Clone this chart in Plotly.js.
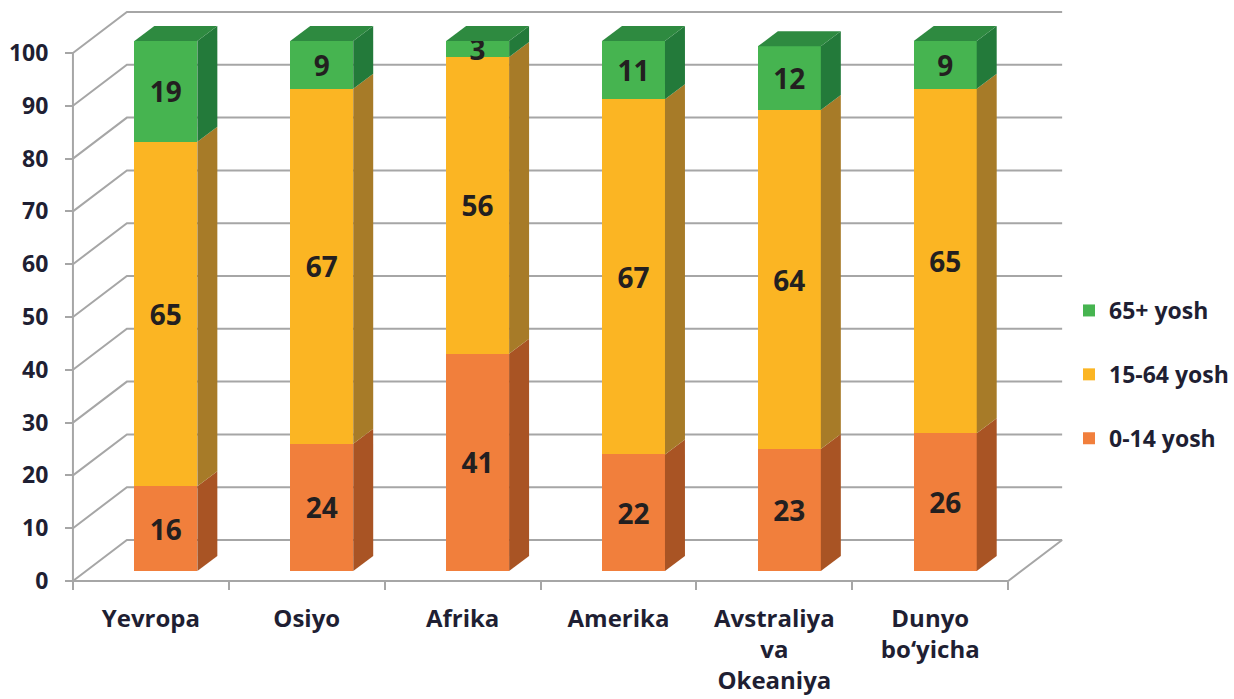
<!DOCTYPE html>
<html>
<head>
<meta charset="utf-8">
<script src="https://cdn.plot.ly/plotly-3.0.1.min.js"></script>
<style>html,body{margin:0;padding:0;background:#fff;}#chart{width:1234px;height:699px;}</style>
</head>
<body>
<div id="chart"></div>
<script>
// ---- data ----
const categories = ['Yevropa', 'Osiyo', 'Afrika', 'Amerika', 'Avstraliya<br>va<br>Okeaniya', 'Dunyo<br>bo‘yicha'];
const seriesNames = ['0-14 yosh', '15-64 yosh', '65+ yosh'];
const age0to14 = [16, 24, 41, 22, 23, 26];
const age15to64 = [65, 67, 56, 67, 64, 65];
const age65plus = [19, 9, 3, 11, 12, 9];
const yTickVals = [0, 10, 20, 30, 40, 50, 60, 70, 80, 90, 100];

// ---- styling / geometry ----
const W = 1234, H = 699;
const CAT_PX = 156;            // pixels per category
const FRONT_X0 = 73;           // px of category boundary -0.5 on the front plane
const FRONT_Y0 = 581;          // px of value 0 on front plane
const FRONT_PXU = 5.28;        // px per value unit
const BAR_OFF_X = 15, BAR_OFF_Y = 10; // bar plane offset from front plane (px)
const BAR_PXU = 5.3;
const BACK_DX = 54, BACK_DY = 41;     // back wall offset (px)
const DEPTH_DX = 20, DEPTH_DY = 15;   // bar depth (px)
const BAR_W = 0.404;
const GRID = '#a6a6a6';
const TXT = '#1f1f33';
const FONT = '"Open Sans", "Noto Sans", sans-serif';

const frontColors = ['#f17f3c', '#fbb523', '#46b450'];
const sideColors = ['#a95424', '#a77b28', '#237a3a'];
const topColor = '#2e8a40';
const seriesValues = [age0to14, age15to64, age65plus];

const nCat = categories.length;
// ranges computed from pixel geometry
const xFront = [(0 - FRONT_X0) / CAT_PX - 0.5, (W - FRONT_X0) / CAT_PX - 0.5];
const yFront = [(FRONT_Y0 - H) / FRONT_PXU, FRONT_Y0 / FRONT_PXU];
const barX0 = FRONT_X0 + BAR_OFF_X, barY0 = FRONT_Y0 - BAR_OFF_Y;
const xBar = [(0 - barX0) / CAT_PX - 0.5, (W - barX0) / CAT_PX - 0.5];
const yBar = [(barY0 - H) / BAR_PXU, barY0 / BAR_PXU];

const traces = seriesNames.map((name, s) => ({
  type: 'bar',
  name: name,
  x: categories,
  y: seriesValues[s],
  xaxis: 'x2',
  yaxis: 'y2',
  width: BAR_W,
  marker: {color: frontColors[s], line: {width: 0}},
  texttemplate: '%{y}',
  textposition: 'inside',
  insidetextanchor: 'middle',
  constraintext: 'none',
  textangle: 0,
  textfont: {family: FONT, size: 28, color: '#231f20', weight: 'bold'},
  legendgroup: 'g' + s,
  legendrank: seriesNames.length - s,
  hoverinfo: 'x+y+name'
}));

const shapes = [];
// back wall grid and connectors (front plane coords)
const bdx = BACK_DX / CAT_PX, bdy = BACK_DY / FRONT_PXU;
const xL = -0.5, xR = nCat - 0.5;
yTickVals.forEach(v => {
  shapes.push({type: 'path', xref: 'x', yref: 'y', layer: 'below',
    path: `M${xL},${v} L${xL + bdx},${v + bdy} L${xR + bdx},${v + bdy}`,
    line: {color: GRID, width: 2}});
});
// floor right edge, front edge, left axis line
shapes.push({type: 'path', xref: 'x', yref: 'y', layer: 'below',
  path: `M${xR + bdx},${bdy} L${xR},0 L${xL},0 L${xL},${yTickVals[yTickVals.length - 1]}`,
  line: {color: GRID, width: 2}});

// bar side and top faces (bar plane coords)
const ddx = DEPTH_DX / CAT_PX, ddy = DEPTH_DY / BAR_PXU;
for (let i = 0; i < nCat; i++) {
  let base = 0;
  const xl = i - BAR_W / 2, xr = i + BAR_W / 2;
  for (let s = 0; s < seriesValues.length; s++) {
    const v0 = base, v1 = base + seriesValues[s][i];
    shapes.push({type: 'path', xref: 'x2', yref: 'y2', layer: 'above',
      path: `M${xr},${v0} L${xr + ddx},${v0 + ddy} L${xr + ddx},${v1 + ddy} L${xr},${v1} Z`,
      fillcolor: sideColors[s], line: {width: 0}});
    base = v1;
  }
  shapes.push({type: 'path', xref: 'x2', yref: 'y2', layer: 'above',
    path: `M${xl},${base} L${xl + ddx},${base + ddy} L${xr + ddx},${base + ddy} L${xr},${base} Z`,
    fillcolor: topColor, line: {width: 0}});
}

const layout = {
  width: W, height: H,
  margin: {l: 0, r: 0, t: 0, b: 0, pad: 0},
  paper_bgcolor: '#ffffff',
  plot_bgcolor: 'rgba(0,0,0,0)',
  barmode: 'stack',
  font: {family: FONT, color: TXT},
  showlegend: true,
  legend: {
    x: 1070 / W, y: 1 - 289 / H, xanchor: 'left', yanchor: 'top',
    traceorder: 'grouped', tracegroupgap: 31,
    font: {family: FONT, size: 23, color: TXT, weight: 'bold'},
    bgcolor: 'rgba(0,0,0,0)', itemclick: false, itemdoubleclick: false
  },
  xaxis: {
    type: 'category', categoryorder: 'array', categoryarray: categories,
    domain: [0, 1], range: xFront, anchor: 'free', position: (H - FRONT_Y0) / H,
    tickmode: 'array', tickvals: categories, ticktext: categories,
    tickson: 'boundaries', ticks: 'outside', ticklen: 8, tickwidth: 2, tickcolor: GRID,
    ticklabelstandoff: 21,
    showline: false, showgrid: false, zeroline: false, tickangle: 0,
    tickfont: {family: FONT, size: 24, color: TXT, weight: 'bold'},
    fixedrange: true
  },
  yaxis: {
    domain: [0, 1], range: yFront, anchor: 'free', position: FRONT_X0 / W,
    tickmode: 'array', tickvals: yTickVals,
    ticks: 'outside', ticklen: 8, tickwidth: 2, tickcolor: GRID,
    ticklabelstandoff: 12,
    showline: false, showgrid: false, zeroline: false,
    tickfont: {family: FONT, size: 23, color: TXT, weight: 'bold'},
    fixedrange: true
  },
  xaxis2: {
    type: 'category', categoryorder: 'array', categoryarray: categories,
    overlaying: 'x', anchor: 'y2', domain: [0, 1], range: xBar, visible: false, fixedrange: true
  },
  yaxis2: {
    overlaying: 'y', anchor: 'x2', domain: [0, 1], range: yBar, visible: false, fixedrange: true
  },
  shapes: shapes
};

Plotly.newPlot('chart', traces, layout, {displayModeBar: false});
</script>
</body>
</html>
